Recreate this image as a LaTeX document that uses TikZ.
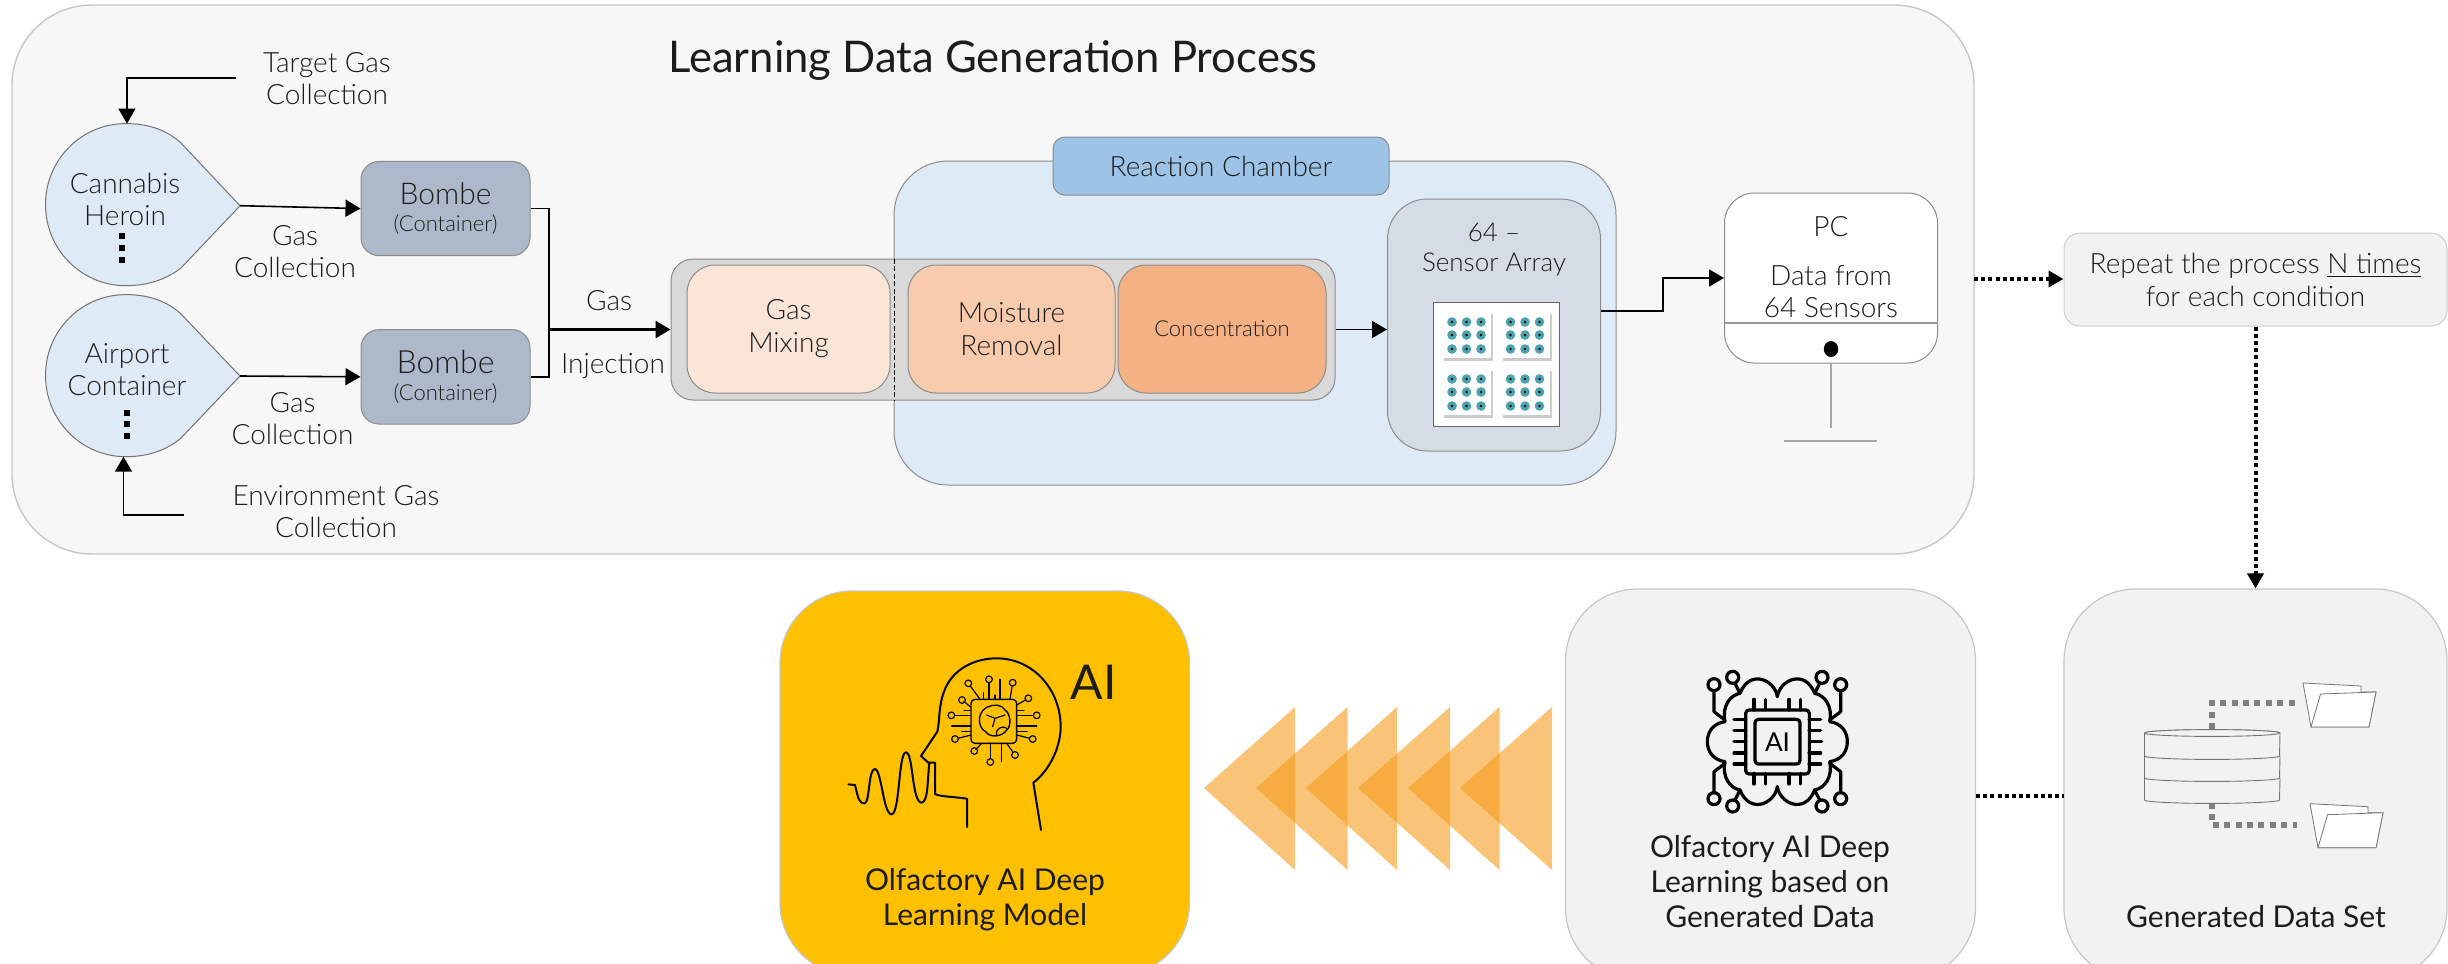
\documentclass[tikz,border=0pt]{standalone}
\usepackage{fontspec}
\setmainfont{Lato}[UprightFont=* Light,BoldFont=*]
\newfontfamily\regfont{Lato}
\usetikzlibrary{arrows.meta,calc}
\definecolor{ink}{HTML}{1C1C1C}
\definecolor{drop}{HTML}{DEEAF6}
\definecolor{bombe}{HTML}{ADB9CA}
\definecolor{chamberlbl}{HTML}{9DC3E6}
\definecolor{mixa}{HTML}{FBE5D6}
\definecolor{mixb}{HTML}{F8CBAD}
\definecolor{mixc}{HTML}{F4B183}
\definecolor{sensorbg}{HTML}{D6DCE5}
\definecolor{dotteal}{HTML}{4BA3AD}
\definecolor{yellowbox}{HTML}{FFC000}
\definecolor{chev}{RGB}{248,155,27}
\newcommand{\shapebox}[7][]{\node[inner sep=0pt,align=center,#1,minimum width={(#5-#3)*0.5pt},minimum height={(#6-#4)*0.5pt}] (#2) at ({(#3+#5)/2},{(#4+#6)/2}) {#7};}
\tikzset{
 txt/.style={text=ink,align=center,inner sep=0pt,font=\fontsize{14}{16}\selectfont},
 inbox/.style={text=ink,font=\fontsize{14}{16.5}\selectfont},
 reg/.style={text=ink,align=center,inner sep=0pt,font=\regfont\fontsize{15}{17.5}\selectfont},
 flow/.style={draw=black,line width=0.8pt,-{Triangle[length=7.5pt,width=8.5pt]}},
 flowthick/.style={draw=black,line width=1.3pt,-{Triangle[length=7.5pt,width=8.5pt]}},
 plainline/.style={draw=black,line width=0.8pt},
 dotflow/.style={draw=black,line width=2pt,dash pattern=on 2pt off 1.6pt,-{Triangle[length=7.5pt,width=8pt]}},
 dotline/.style={draw=black,line width=2pt,dash pattern=on 2pt off 1.6pt},
 graydot/.style={draw=black!50,line width=2.6pt,dash pattern=on 3pt off 2.7pt},
 outerbox/.style={draw=black!22,fill=#1,line width=0.7pt,rounded corners=40pt},
 bombebox/.style={draw=black!45,fill=#1,line width=0.5pt,rounded corners=9pt},
 softbox/.style={draw=black!45,fill=#1,line width=0.5pt,rounded corners=14pt},
 tear/.style={draw=black!55,fill=drop,line width=0.5pt},
 icon/.style={draw=black!85!ink,line width=1pt,line cap=round,line join=round},
 iconb/.style={draw=black,line width=1.6pt,line cap=round,line join=round},
}
\begin{document}
\begin{tikzpicture}[x=0.5pt,y=-0.5pt]
\clip (0,0) rectangle (2448,964);
\fill[white] (0,0) rectangle (2448,964);
% outer panel
\shapebox[outerbox=black!3]{outer}{12}{5}{1974}{554}{}
\node[reg,font=\regfont\fontsize{21.8}{24}\selectfont] (title) at (993,60) {Learning Data Generation Process};
% teardrops
\path[tear] (126,123.6) .. controls (150,123.6) and (168,131) .. (181,143) -- (240,205.7) -- (181,268) .. controls (168,278) and (150,285.7) .. (126,285.7) .. controls (81,285.7) and (45.5,249) .. (45.5,204.6) .. controls (45.5,160) and (81,123.6) .. (126,123.6) -- cycle;
\path[tear] (126,294.6) .. controls (150,294.6) and (168,302) .. (181,314) -- (240,376) -- (181,438) .. controls (168,449) and (150,456.7) .. (126,456.7) .. controls (81,456.7) and (45.5,420) .. (45.5,375.6) .. controls (45.5,331) and (81,294.6) .. (126,294.6) -- cycle;
\coordinate (tipa) at (240,205.7);
\coordinate (tipb) at (240,376);
\coordinate (topa) at (127,123.6);
\coordinate (bota) at (123.5,456.7);
\coordinate (srca) at (236,78);
\coordinate (srcb) at (184,515);
\node[txt] (cannabis) at (125,199) {Cannabis\\Heroin};
\node[txt] (airport) at (127,370) {Airport\\Container};
\foreach \yy in {236,248,260} \fill[black] (119,\yy-3) rectangle (125,\yy+3);
\foreach \yy in {412.5,424,436} \fill[black] (124,\yy-3) rectangle (130,\yy+3);
\node[txt] (target) at (327,78.5) {Target Gas\\Collection};
\node[txt] (envgas) at (336,512) {Environment Gas\\Collection};
\draw[flow] (srca) -| (topa);
\draw[flow] (srcb) -| (bota);
% bombes
\shapebox[bombebox=bombe,text=ink]{bomba}{361}{161.4}{530}{255.7}{{\fontsize{15}{17}\selectfont Bombe}\\[1.5pt]{\fontsize{11}{13}\selectfont (Container)}}
\shapebox[bombebox=bombe,text=ink]{bombb}{361}{329.6}{530}{424}{{\fontsize{16}{18}\selectfont Bombe}\\[1.5pt]{\fontsize{11}{13}\selectfont (Container)}}
\draw[flow] (tipa) -- (bomba.west);
\draw[flow] (tipb) -- (bombb.west);
\node[txt] (gcola) at (295,252) {Gas\\Collection};
\node[txt] (gcolb) at (292.5,418.5) {Gas\\Collection};
% chamber
\shapebox[softbox=drop,rounded corners=27pt]{chamber}{894}{161}{1616}{485}{}
\shapebox[softbox=chamberlbl,rounded corners=6pt,text=ink,font=\fontsize{14}{16}\selectfont]{chamberlabel}{1053}{137}{1389}{195}{Reaction Chamber}
\shapebox[softbox=black!15,rounded corners=11pt]{strip}{671}{259}{1335}{400}{}
\shapebox[softbox=mixa,inbox]{mixing}{687}{265}{890}{393}{Gas\\Mixing}
\shapebox[softbox=mixb,inbox]{moisture}{908}{265}{1115}{393}{Moisture\\Removal}
\shapebox[softbox=mixc,text=ink,font=\fontsize{11}{13}\selectfont]{conc}{1118}{265}{1326}{393}{Concentration}
\coordinate (dashtop) at (894,259);
\coordinate (dashbot) at (894,400);
\draw[black,line width=0.4pt,dash pattern=on 2.5pt off 1.2pt] (dashtop) -- (dashbot);
% gas injection
\coordinate (jointa) at (549,329.5);
\draw[plainline] (bomba.east) -| (jointa);
\draw[plainline] (bombb.east) -| (jointa);
\draw[flowthick] (jointa) -- (strip.west);
\node[txt] (gaslbl) at (609,301) {Gas};
\node[txt] (injlbl) at (613,366) {Injection};
% sensor
\shapebox[softbox=sensorbg,rounded corners=20pt]{sensor}{1387.5}{199}{1600.5}{451}{}
\node[txt,font=\fontsize{13}{15}\selectfont] (sensortxt) at (1494,250) {64 --\\Sensor Array};
\draw[flow] (strip.east) -- (sensor.west |- strip.east);
\fill[white,draw=black!60,line width=0.4pt] (1433,302) rectangle (1559,426);
\foreach \cx/\cy in {1443/312,1501.5/312,1443/369,1501.5/369}{
  \fill[black!20] (\cx+1,\cy+2) rectangle (\cx+50,\cy+49);
  \fill[white] (\cx,\cy) rectangle (\cx+48,\cy+46);
  \foreach \dx in {9,23.5,38} \foreach \dy in {10,23,37}{
    \fill[dotteal] (\cx+\dx,\cy+\dy) circle (2.4pt);
    \fill[black] (\cx+\dx,\cy+\dy) circle (0.7pt);
  }
}
% PC
\shapebox[softbox=white,rounded corners=15pt]{pc}{1724.5}{193}{1937.5}{363}{}
\coordinate (sensorout) at (1600.5,311);
\coordinate (bendup) at (1663,278);
\draw[flow] (sensorout) -| (bendup) -- (pc.west |- bendup);
\node[txt] (pclbl) at (1831,227) {PC};
\node[txt,font=\fontsize{14}{16}\selectfont] (pcdata) at (1831,292) {Data from\\64 Sensors};
\coordinate (divl) at (1724.5,323);
\coordinate (divr) at (1937.5,323);
\draw[black!40,line width=0.7pt] (divl) -- (divr);
\fill[black] (1831,349) ellipse (3.6pt and 4pt);
\coordinate (standtop) at (1831,363);
\coordinate (standbot) at (1831,428);
\coordinate (basel) at (1784,441);
\coordinate (baser) at (1877,441);
\draw[black!35,line width=0.6pt] (standtop) -- (standbot);
\draw[black!35,line width=0.6pt] (basel) -- (baser);
% repeat
\shapebox[draw=black!20,fill=black!5,line width=0.5pt,rounded corners=8pt,text=ink,font=\fontsize{14}{16.5}\selectfont]{repeatbox}{2064}{233}{2447}{326}{Repeat the process \underline{N times}\\for each condition}
\coordinate (outerout) at (1974,279);
\draw[dotflow] (outerout) -- (repeatbox.west |- outerout);
% bottom boxes
\shapebox[draw=black!22,fill=black!5,line width=0.6pt,rounded corners=36pt]{learnbox}{1565.5}{589}{1975.5}{980}{}
\shapebox[draw=black!22,fill=black!5,line width=0.6pt,rounded corners=36pt]{databox}{2064}{589}{2447}{980}{}
\shapebox[draw=black!22,fill=yellowbox,line width=0.6pt,rounded corners=36pt]{modelbox}{780}{591}{1189.5}{975}{}
\draw[dotflow] (repeatbox.south) -- (databox.north -| repeatbox.south);
\coordinate (dl) at (1976,796);
\coordinate (dr) at (2064,796);
\draw[dotline] (dl) -- (dr);
\node[reg] (modeltxt) at (985,900) {Olfactory AI Deep\\Learning Model};
\node[reg] (learntxt) at (1770,882) {Olfactory AI Deep\\Learning based on\\Generated Data};
\node[reg] (datatxt) at (2256,917) {Generated Data Set};
\node[reg,font=\regfont\fontsize{24}{28}\selectfont] (aitxt) at (1093.5,682) {AI};
% chevrons
\foreach \tipx/\rx in {1460/1552,1408/1499.5,1358/1450,1306/1397,1256/1347.5,1204/1295}
  \fill[chev,opacity=0.59] (\tipx,788) -- (\rx,707) -- (\rx,870) -- cycle;
% database
\coordinate (dbtop) at (2212,729);
\coordinate (dbup) at (2212,703);
\coordinate (fa) at (2297,703);
\coordinate (dbbot) at (2212,803);
\coordinate (dbdn) at (2212,825);
\coordinate (fb) at (2297,825);
\draw[graydot] (dbtop) -- (dbup) -- (fa);
\draw[graydot] (dbbot) -- (dbdn) -- (fb);
\foreach \ya/\yb in {778/800,756/778,733/756}{
  \path[fill=black!5,draw=black!55,line width=0.45pt] (2144.5,\ya) -- (2144.5,\yb) arc[start angle=180,end angle=360,x radius=33.75pt,y radius=1.7pt] -- (2280,\ya) arc[start angle=0,end angle=180,x radius=33.75pt,y radius=1.7pt] -- cycle;
}
\draw[black!55,line width=0.45pt,fill=black!5] (2212,733) ellipse (33.75pt and 1.7pt);
\foreach \fx/\fy in {0/0,7/120.7}{
\begin{scope}[shift={(\fx,\fy)}]
\path[fill=white,draw=black!55,line width=0.4pt] (2303,683) -- (2361,686) -- (2361,692) -- (2376,692) -- (2369,727) -- (2311,727) -- cycle;
\path[fill=white,draw=black!55,line width=0.4pt] (2320.5,694) -- (2376,692) -- (2369,727) -- (2311,727) -- cycle;
\end{scope}}
% head icon
\begin{scope}[shift={(820,620)},scale=0.33333]
\draw[icon] (441,621) -- (441,536) .. controls (400,530) and (360,530) .. (345,522) -- (345,428) -- (325,428) -- (303,408) -- (352,335) .. controls (360,300) and (355,260) .. (372,215) .. controls (395,150) and (460,115) .. (530,115) .. controls (640,115) and (722,210) .. (722,320) .. controls (722,380) and (690,450) .. (640,488) -- (663,630);
\draw[icon] (85,493) -- (105,495) .. controls (115,540) and (120,552) .. (135,550) .. controls (150,540) and (145,447) .. (165,447) .. controls (185,450) and (190,585) .. (215,583) .. controls (240,580) and (235,397) .. (258,397) .. controls (280,397) and (275,548) .. (305,548) .. controls (325,545) and (322,480) .. (328,430);
\draw[icon,line width=0.7pt,rounded corners=2pt] (453,238) rectangle (590,370);
\draw[icon,line width=0.7pt] (500,262) .. controls (520,252) and (545,252) .. (555,270) .. controls (572,280) and (575,320) .. (560,330) .. controls (548,350) and (510,355) .. (497,335) .. controls (475,325) and (468,280) .. (500,262) -- cycle;
\draw[icon,line width=0.6pt] (500,285) -- (525,295) -- (518,320); \draw[icon,line width=0.6pt] (525,295) -- (555,285); \draw[icon,line width=0.6pt] (530,345) .. controls (525,325) and (550,315) .. (560,325);
\foreach \cx/\cy/\ex/\ey in {445/190/478/235,507/178/507/238,578/188/570/238,625/235/590/255,650/286/590/286,638/357/590/345,585/405/560/370,511/426/511/370,463/393/485/370,405/357/453/345,394/286/453/286,426/240/453/262}{
  \draw[icon,line width=0.6pt] (\cx,\cy) circle (10);
  \draw[icon,line width=0.6pt] (\cx,\cy) ++ ({(\ex-\cx)*0.2},{(\ey-\cy)*0.2}) -- (\ex,\ey);
}
\foreach \ax/\ay/\bx/\by in {540/178/540/238,490/218/490/238,525/225/525/238,395/318/453/318,590/318/650/318,545/370/545/425,432/272/453/272,590/272/612/272,425/335/453/335,590/335/622/335}
  \draw[icon,line width=0.6pt] (\ax,\ay) -- (\bx,\by);
\end{scope}
% AI-brain icon
\begin{scope}[shift={(1680,650)},scale=0.33333]
\foreach \sx/\sy in {1/1,-1/1,1/-1,-1/-1}{
\begin{scope}[shift={(292,275)},xscale=\sx,yscale=\sy]
\draw[iconb] (0,-135) .. controls (-7,-185) and (-82,-220) .. (-112,-145) .. controls (-142,-140) and (-167,-105) .. (-157,-60) .. controls (-192,-55) and (-210,-30) .. (-210,0);
\draw[iconb] (-190,-171) circle (18);
\draw[iconb] (-190,-153) -- (-190,-90) -- (-157,-65);
\draw[iconb] (-134,-193) circle (18);
\draw[iconb] (-127,-175) -- (-112,-145);
\draw[iconb] (-70,-127) -- (-70,-95); \draw[iconb] (-35,-127) -- (-35,-95);
\draw[iconb] (-130,-67) -- (-95,-67); \draw[iconb] (-130,-34) -- (-95,-34);
\end{scope}}
\draw[iconb,rounded corners=1.7pt] (197,180) rectangle (388,372);
\draw[iconb,rounded corners=1.7pt] (225,208) rectangle (360,342);
\draw[iconb] (162,275) -- (197,275); \draw[iconb] (388,275) -- (425,275);
\end{scope}
\node[text=black,inner sep=0pt,font=\regfont\fontsize{13}{13}\selectfont] (chipai) at (1777.5,742) {AI};
\end{tikzpicture}
\end{document}
